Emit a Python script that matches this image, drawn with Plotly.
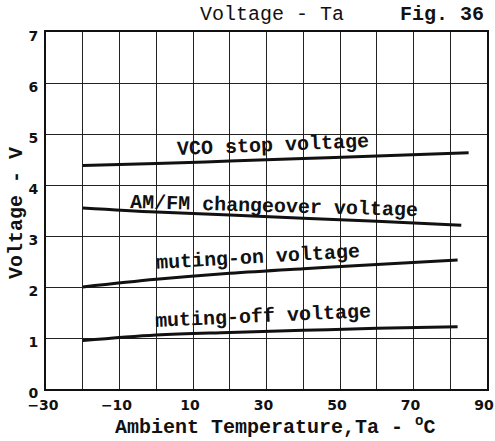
import plotly.graph_objects as go

# Temperature points (deg C) and characteristic voltages (V)
temp_vco = [-20, 0, 20, 40, 60, 85]
vco_stop = [4.38, 4.42, 4.47, 4.52, 4.57, 4.63]

temp_amfm = [-20, 0, 20, 40, 60, 83]
amfm_changeover = [3.55, 3.47, 3.41, 3.35, 3.29, 3.21]

temp_mon = [-20, 0, 20, 40, 60, 82]
muting_on = [2.00, 2.15, 2.27, 2.36, 2.44, 2.53]

temp_moff = [-20, 0, 20, 40, 60, 82]
muting_off = [0.95, 1.06, 1.11, 1.15, 1.19, 1.22]

x_tickvals = [-30, -10, 10, 30, 50, 70, 90]
x_ticktext = ["−30", "−10", "10", "30", "50", "70", "90"]
y_tickvals = [0, 1, 2, 3, 4, 5, 6, 7]
y_ticktext = ["0", "1", "2", "3", "4", "5", "6", "7"]

MONO = "Liberation Mono, Courier New, monospace"
INK = "#111111"

fig = go.Figure()

curves = [
    (temp_vco, vco_stop),
    (temp_amfm, amfm_changeover),
    (temp_mon, muting_on),
    (temp_moff, muting_off),
]
for tx, vy in curves:
    fig.add_trace(go.Scatter(
        x=tx, y=vy, mode="lines",
        line=dict(color=INK, width=3, shape="spline"),
        showlegend=False, hoverinfo="skip",
    ))

# Curve captions
captions = [
    ("VCO stop voltage", 31.8, 4.78, -2.4),
    ("AM/FM changeover voltage", 32.0, 3.58, 1.6),
    ("muting-on voltage", 27.7, 2.57, -3.3),
    ("muting-off voltage", 29.0, 1.43, -2.6),
]
for text, cx, cy, ang in captions:
    fig.add_annotation(
        x=cx, y=cy, xref="x", yref="y", text=text, showarrow=False,
        xanchor="center", yanchor="middle", textangle=ang,
        font=dict(family=MONO, size=20, color=INK, weight="bold"),
    )

L, R, T, B = 46, 487, 32, 389
W, H = 495, 441


def px(xp):
    return (xp - L) / (R - L)


def py(yp):
    return (B - yp) / (B - T)


def label(text, xp, yp, bold=True, angle=0):
    fig.add_annotation(
        x=px(xp), y=py(yp), xref="paper", yref="paper", text=text,
        showarrow=False, xanchor="center", yanchor="middle", textangle=angle,
        font=dict(family=MONO, size=20, color=INK,
                  weight="bold" if bold else "normal"),
    )


# Header
label("Voltage - Ta", 272, 15, bold=False)
label("Fig. 36", 442, 15)

# Axis titles
label("Ambient Temperature,Ta - <sup>o</sup>C", 275, 426)
label("Voltage - V", 16, 213, angle=-90)

tick_font = dict(family="DejaVu Sans, Arial, sans-serif", size=14,
                 color=INK, weight="bold")

fig.update_xaxes(
    range=[-30, 90], tickmode="array", tickvals=x_tickvals, ticktext=x_ticktext,
    showgrid=True, gridcolor="#222222", gridwidth=1,
    minor=dict(dtick=10, tick0=-30, showgrid=True, gridcolor="#222222",
               gridwidth=1, ticks=""),
    showline=True, linecolor=INK, linewidth=2, mirror=True,
    ticks="", tickfont=tick_font, zeroline=False, automargin=False,
    ticklabeloverflow="allow", ticklabelstandoff=2, ticklabelshift=-3,
)
fig.update_yaxes(
    range=[0, 7], tickmode="array", tickvals=y_tickvals, ticktext=y_ticktext,
    showgrid=True, gridcolor="#222222", gridwidth=1,
    showline=True, linecolor=INK, linewidth=2, mirror=True,
    ticks="", tickfont=tick_font, zeroline=False, automargin=False,
    ticklabelstandoff=3, ticklabelshift=4, ticklabeloverflow="allow",
)

fig.update_layout(
    width=W, height=H,
    margin=dict(l=L, r=W - R, t=T, b=H - B),
    paper_bgcolor="white", plot_bgcolor="white",
)

fig.write_html("out.html")
